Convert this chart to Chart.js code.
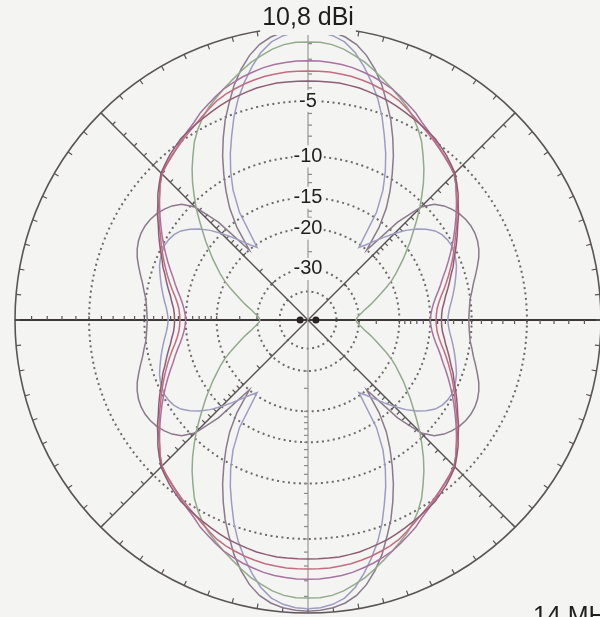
<!DOCTYPE html>
<html>
<head>
<meta charset="utf-8">
<title>14 MHz</title>
<script src="https://cdn.jsdelivr.net/npm/chart.js@4.4.0/dist/chart.umd.min.js"></script>
<style>
  html, body { margin: 0; padding: 0; background: #f4f4f2; overflow: hidden; }
  #frame { position: relative; width: 600px; height: 617px; overflow: hidden; }
  #pattern { position: absolute; left: -12px; top: 0; display: block; }
</style>
</head>
<body>
<div id="frame"><canvas id="pattern" width="640" height="640"></canvas></div>
<script>
// one quadrant of each pattern, dB at 2.5 deg steps from 0 (top) to 90 (right)
const quadrantStep = 2.5;
const ringLevels = [-40, -30, -20, -15, -10, -5, 0];
const ringLabels = ['', '-30', '-20', '-15', '-10', '-5', ''];
const peakText = '10,8 dBi';
const bandText = '14 MH';

const curveA = [-0.1, -0.15, -0.25, -0.45, -0.8, -1.35, -2.1, -3.0, -4.1, -5.2, -6.5, -7.9, -9.5, -11.2, -13.1, -15.8, -20.0,
  -13.6, -10.4, -9.2, -8.6, -8.2, -7.9, -7.7, -7.6, -7.6, -7.7, -7.9, -8.2, -8.6, -9.0, -9.4, -9.7, -10.0, -10.15, -10.25, -10.3];
const curveB = [-0.25, -0.3, -0.45, -0.75, -1.3, -2.1, -3.0, -4.0, -5.2, -6.6, -8.0, -9.6, -11.5, -14.3, -20.5, -19.4, -18.0,
  -16.5, -15.0, -13.6, -12.5, -11.6, -10.9, -10.5, -10.3, -10.2, -10.3, -10.4, -10.6, -10.9, -11.2, -11.5, -11.8, -12.1, -12.4, -12.6, -12.7];
const curveG = [-0.9, -0.9, -1.0, -1.2, -1.5, -1.8, -2.2, -2.6, -3.0, -3.4, -3.8, -4.3, -4.9, -5.6, -6.5, -7.4, -8.4,
  -9.5, -10.6, -11.8, -13.0, -14.1, -15.3, -16.4, -17.6, -18.7, -19.9, -21.3, -22.8, -24.1, -25.4, -26.7, -28.0, -29.0, -30.0, -30.7, -31.0];
const curveM = [-2.1, -2.1, -2.15, -2.2, -2.3, -2.45, -2.6, -2.8, -3.0, -3.3, -3.6, -3.9, -4.3, -4.6, -4.9, -5.2, -5.45,
  -5.7, -6.0, -6.5, -7.1, -7.7, -8.3, -8.9, -9.5, -10.1, -10.7, -11.3, -11.9, -12.5, -13.0, -13.5, -14.0, -14.4, -14.7, -14.9, -15.0];
const curveP = [-2.8, -2.8, -2.8, -2.85, -2.9, -3.0, -3.1, -3.25, -3.4, -3.6, -3.9, -4.2, -4.5, -4.75, -5.0, -5.25, -5.5,
  -5.75, -6.0, -6.5, -7.1, -7.6, -8.2, -8.7, -9.3, -9.8, -10.3, -10.8, -11.3, -11.8, -12.3, -12.8, -13.3, -13.7, -14.0, -14.15, -14.2];
const curveD = [-3.5, -3.5, -3.5, -3.5, -3.55, -3.6, -3.7, -3.8, -3.9, -4.05, -4.2, -4.35, -4.5, -4.65, -4.8, -5.05, -5.3,
  -5.6, -5.9, -6.4, -6.9, -7.5, -8.0, -8.6, -9.1, -9.6, -10.1, -10.6, -11.0, -11.5, -11.9, -12.3, -12.7, -13.0, -13.3, -13.45, -13.5];

const curves = [curveD, curveP, curveM, curveG, curveB, curveA];
const curveColors = ['#8e5c74', '#c46c80', '#a8739e', '#92ab8c', '#9d9cc2', '#8a7a8c'];

// the two dots either side of the origin, on the 90/270 deg line
const markerBearings = [90, 270];
const markerLevel = -62;

const BG = '#f4f4f2';
const ARRL_FACTOR = 0.89; // radius shrinks by this every 2 dB

// full circle, patterns are symmetric about both axes
const steps = Math.round(360 / quadrantStep);
const bearings = [];
for (let i = 0; i < steps; i++) bearings.push(i * quadrantStep);

function mirror(q) {
  return bearings.map(b => {
    let a = b;
    if (a > 270) a = 360 - a;
    else if (a > 180) a = a - 180;
    else if (a > 90) a = 180 - a;
    return q[Math.round(a / quadrantStep)];
  });
}

// radial scale on the ARRL log grid
class ArrlRadialScale extends Chart.RadialLinearScale {
  getDistanceFromCenterForValue(value) {
    if (value === null || isNaN(value)) return NaN;
    const v = Math.min(Math.max(value, this.min), this.max);
    return this.drawingArea * Math.pow(ARRL_FACTOR, (this.max - v) / 2);
  }
  getValueForDistanceFromCenter(distance) {
    return this.max - 2 * Math.log(distance / this.drawingArea) / Math.log(ARRL_FACTOR);
  }
}
ArrlRadialScale.id = 'arrlRadial';
ArrlRadialScale.defaults = Chart.RadialLinearScale.defaults;
ArrlRadialScale.defaultRoutes = Chart.RadialLinearScale.defaultRoutes;
ArrlRadialScale.descriptors = Chart.RadialLinearScale.descriptors;
Chart.register(ArrlRadialScale);

const quarter = steps / 4;
const eighth = steps / 8;

// compass ticks on the rim and dB ticks along the axes
const axisMarks = {
  id: 'axisMarks',
  beforeDatasetsDraw(chart) {
    const s = chart.scales.r;
    const ctx = chart.ctx;
    const R = s.drawingArea;
    ctx.save();
    ctx.strokeStyle = '#5a5555';
    ctx.lineWidth = 1.2;
    for (let i = 0; i < steps; i += 2) {
      const p1 = s.getPointPosition(i, R);
      const p2 = s.getPointPosition(i, R - 5);
      ctx.beginPath();
      ctx.moveTo(p1.x, p1.y);
      ctx.lineTo(p2.x, p2.y);
      ctx.stroke();
    }
    for (let i = 0; i < steps; i += eighth) {
      const a = s.getIndexAngle(i) - Math.PI / 2;
      const nx = -Math.sin(a), ny = Math.cos(a);
      ctx.strokeStyle = (i % quarter === 0 && (i / quarter) % 2 === 0) ? '#8a8888' : '#5a5555';
      for (let db = -1; db >= -30; db--) {
        if (db < -20 && db % 5 !== 0) continue;
        const p = s.getPointPosition(i, s.getDistanceFromCenterForValue(db));
        ctx.beginPath();
        ctx.moveTo(p.x, p.y);
        ctx.lineTo(p.x + nx * 4, p.y + ny * 4);
        ctx.stroke();
      }
    }
    ctx.restore();
  },
  afterDraw(chart) {
    const s = chart.scales.r;
    const ctx = chart.ctx;
    ctx.save();
    ctx.font = '25px "Liberation Sans", Arial, sans-serif';
    ctx.textAlign = 'center';
    ctx.textBaseline = 'middle';
    const w = ctx.measureText(peakText).width;
    const top = s.getPointPosition(0, s.drawingArea);
    ctx.fillStyle = BG;
    ctx.fillRect(top.x - w / 2 - 2, top.y - 18, w + 4, 26);
    ctx.fillStyle = '#1e1e1e';
    ctx.fillText(peakText, top.x, top.y - 9);
    ctx.textAlign = 'left';
    ctx.textBaseline = 'alphabetic';
    ctx.fillText(bandText, s.xCenter + 225, s.yCenter + 304);
    ctx.restore();
  }
};

const patternSets = curves.map((q, k) => ({
  label: 'pattern ' + (k + 1),
  data: mirror(q),
  borderColor: curveColors[k],
  backgroundColor: 'transparent',
  borderWidth: 1.5,
  pointRadius: 0,
  fill: false,
  tension: 0
}));

const markerSet = {
  label: 'markers',
  data: bearings.map(b => markerBearings.includes(b) ? markerLevel : null),
  showLine: false,
  pointRadius: 3.5,
  pointBackgroundColor: '#2a2224',
  pointBorderColor: '#2a2224',
  borderWidth: 0
};

new Chart(document.getElementById('pattern'), {
  type: 'radar',
  data: {
    labels: bearings.map(b => b + '°'),
    datasets: [markerSet, ...patternSets]
  },
  options: {
    responsive: false,
    animation: false,
    layout: { padding: 16 },
    plugins: { legend: { display: false }, tooltip: { enabled: false } },
    scales: {
      r: {
        type: 'arrlRadial',
        min: -70,
        max: 0,
        afterBuildTicks: scale => { scale.ticks = ringLevels.map(v => ({ value: v })); },
        pointLabels: { display: false },
        grid: {
          circular: true,
          color: c => (c.tick && c.tick.value === 0) ? '#5a5555' : '#6e6a6a',
          lineWidth: c => (c.tick && c.tick.value === 0) ? 1.6 : 2
        },
        border: {
          dash: c => (c.tick && c.tick.value === 0) ? [] : [2, 3.5]
        },
        angleLines: {
          display: true,
          color: c => {
            if (c.index % eighth !== 0) return 'rgba(0,0,0,0)';
            if (c.index % quarter !== 0) return '#5a5555';
            return (c.index / quarter) % 2 === 0 ? '#9a9898' : '#3c3838';
          },
          lineWidth: c => {
            if (c.index % eighth !== 0) return 0;
            if (c.index % quarter !== 0) return 1.5;
            return (c.index / quarter) % 2 === 0 ? 1.2 : 2.2;
          }
        },
        ticks: {
          callback: v => ringLabels[ringLevels.indexOf(v)] || '',
          color: '#1e1e1e',
          font: { family: '"Liberation Sans", Arial, sans-serif', size: 20 },
          showLabelBackdrop: c => !!(c.tick && c.tick.label),
          backdropColor: BG,
          backdropPadding: 1,
          z: 1
        }
      }
    }
  },
  plugins: [axisMarks]
});
</script>
</body>
</html>
